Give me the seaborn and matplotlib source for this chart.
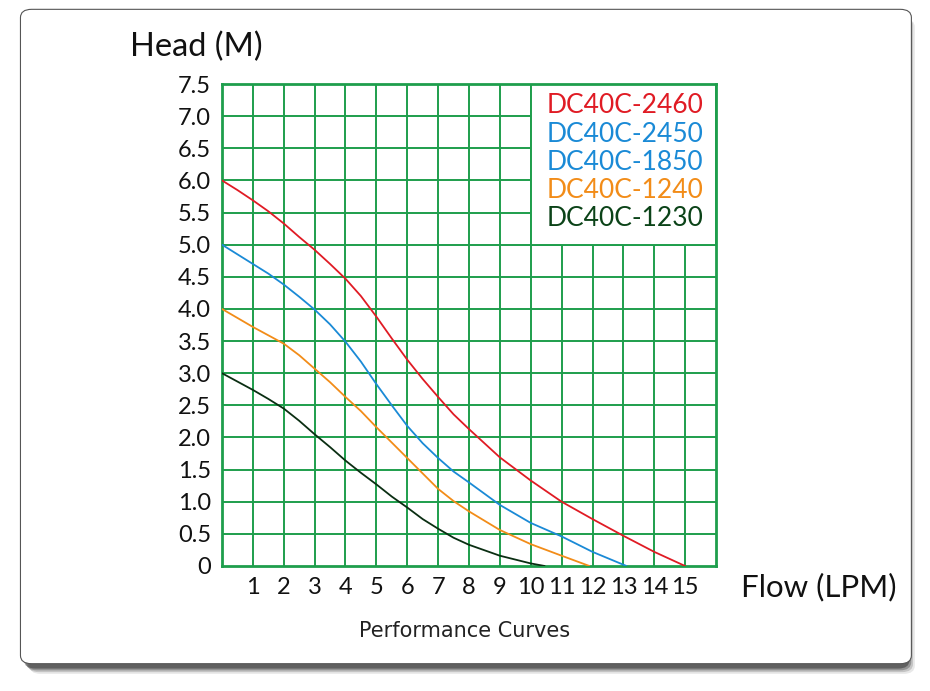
import numpy as np
import pandas as pd
import matplotlib.pyplot as plt
import seaborn as sns
from matplotlib.patches import FancyBboxPatch, Rectangle

sns.set_style("white")
plt.rcParams['font.family'] = ['Lato', 'DejaVu Sans']

# ---------------------------------------------------------------------
# values (flow in LPM, head in m)
flow_2460 = [0, 0.5, 1, 1.5, 2, 2.5, 3, 3.5, 4, 4.5, 5, 5.5, 6, 6.5, 7, 7.5, 8,
             9, 10, 11, 12, 13, 14, 15]
head_2460 = [6.0, 5.85, 5.69, 5.52, 5.33, 5.12, 4.92, 4.70, 4.47, 4.20, 3.88, 3.54,
             3.21, 2.91, 2.63, 2.36, 2.13, 1.69, 1.33, 1.00, 0.73, 0.47, 0.22, 0.0]

flow_2450 = [0, 0.5, 1, 1.5, 2, 2.5, 3, 3.5, 4, 4.5, 5, 5.5, 6, 6.5, 7, 7.5, 8,
             9, 10, 11, 12, 13.1]
head_2450 = [5.0, 4.85, 4.70, 4.55, 4.38, 4.19, 3.99, 3.76, 3.49, 3.18, 2.83, 2.50,
             2.18, 1.91, 1.68, 1.47, 1.30, 0.95, 0.67, 0.46, 0.22, 0.0]

flow_1240 = [0, 0.5, 1, 1.5, 2, 2.5, 3, 3.5, 4, 4.5, 5, 5.5, 6, 6.5, 7, 7.5, 8,
             9, 10, 11, 11.9]
head_1240 = [4.0, 3.86, 3.72, 3.59, 3.46, 3.28, 3.07, 2.86, 2.63, 2.41, 2.16, 1.92,
             1.68, 1.44, 1.20, 1.01, 0.85, 0.56, 0.34, 0.16, 0.0]

flow_1230 = [0, 0.5, 1, 1.5, 2, 2.5, 3, 3.5, 4, 4.5, 5, 5.5, 6, 6.5, 7, 7.5, 8,
             9, 10, 10.45]
head_1230 = [3.0, 2.87, 2.74, 2.60, 2.45, 2.26, 2.05, 1.85, 1.64, 1.45, 1.27, 1.08,
             0.91, 0.73, 0.58, 0.44, 0.33, 0.16, 0.04, 0.0]

legend_labels = ["DC40C-2460", "DC40C-2450", "DC40C-1850", "DC40C-1240", "DC40C-1230"]
legend_colors = ["#e01b24", "#1a8ad6", "#1a8ad6", "#f28c18", "#0b4318"]

x_ticks = list(range(1, 16))
y_ticks = [0, 0.5, 1.0, 1.5, 2.0, 2.5, 3.0, 3.5, 4.0, 4.5, 5.0, 5.5, 6.0, 6.5, 7.0, 7.5]
y_tick_labels = ["0", "0.5", "1.0", "1.5", "2.0", "2.5", "3.0", "3.5", "4.0", "4.5",
                 "5.0", "5.5", "6.0", "6.5", "7.0", "7.5"]

curves = pd.concat([
    pd.DataFrame({"flow": flow_2460, "head": head_2460, "model": "2460"}),
    pd.DataFrame({"flow": flow_2450, "head": head_2450, "model": "2450"}),
    pd.DataFrame({"flow": flow_1240, "head": head_1240, "model": "1240"}),
    pd.DataFrame({"flow": flow_1230, "head": head_1230, "model": "1230"}),
])
palette = {"2460": "#e01b24", "2450": "#1a8ad6", "1240": "#f28c18", "1230": "#0a2e12"}

grid_green = "#1e9e4c"

# ---------------------------------------------------------------------
fig = plt.figure(figsize=(9.3, 6.91), dpi=100)

# card with drop shadow
for i, a in enumerate([0.10, 0.18, 0.30, 0.45]):
    off = (4 - i) * 0.0016
    fig.patches.append(FancyBboxPatch((0.024 + off * 1.2, 0.035 - off * 1.6), 0.952, 0.948,
                                      boxstyle="round,pad=0,rounding_size=0.012",
                                      transform=fig.transFigure, facecolor="#222222",
                                      edgecolor="none", alpha=a, zorder=0))
fig.patches.append(FancyBboxPatch((0.022, 0.034 + 0.0055), 0.958, 0.947,
                                  boxstyle="round,pad=0,rounding_size=0.012",
                                  transform=fig.transFigure, facecolor="white",
                                  edgecolor="#555555", linewidth=0.8, zorder=1))

ax = fig.add_axes([0.2387, 0.1809, 0.5312, 0.6975])
ax.set_facecolor("none")
ax.set_zorder(2)

sns.lineplot(data=curves, x="flow", y="head", hue="model", palette=palette,
             linewidth=1.3, legend=False, sort=False, ax=ax, zorder=4)

ax.set_xlim(0, 16)
ax.set_ylim(0, 7.5)
ax.set_xticks(x_ticks)
ax.set_xticklabels([str(t) for t in x_ticks])
ax.set_yticks(y_ticks)
ax.set_yticklabels(y_tick_labels)

for xv in range(1, 16):
    ax.axvline(xv, color=grid_green, linewidth=1.4, zorder=1)
for yv in y_ticks[1:-1]:
    ax.axhline(yv, color=grid_green, linewidth=1.4, zorder=1)

for s in ax.spines.values():
    s.set_color(grid_green)
    s.set_linewidth(2.0)

ax.tick_params(axis="both", length=0, labelsize=17, colors="#111111")
ax.tick_params(axis="x", pad=8)
ax.tick_params(axis="y", pad=8)
ax.set_xlabel("")
ax.set_ylabel("")

# legend panel
ax.add_patch(Rectangle((10, 5.0), 6, 2.5, facecolor="white", edgecolor=grid_green,
                       linewidth=1.4, zorder=2))
legend_y = [7.16, 6.72, 6.28, 5.84, 5.40]
for lab, col, yy in zip(legend_labels, legend_colors, legend_y):
    ax.text(15.6, yy, lab, color=col, fontsize=19, ha="right", va="center", zorder=5)

fig.text(0.140, 0.932, "Head (M)", fontsize=23.5, color="#111111", ha="left", va="center")
fig.text(0.797, 0.151, "Flow (LPM)", fontsize=22.5, color="#111111", ha="left", va="center")
fig.text(0.500, 0.087, "Performance Curves", fontsize=15, color="#222222",
         ha="center", va="center", family=["DejaVu Sans"])

fig.savefig("out.png", dpi=100)
